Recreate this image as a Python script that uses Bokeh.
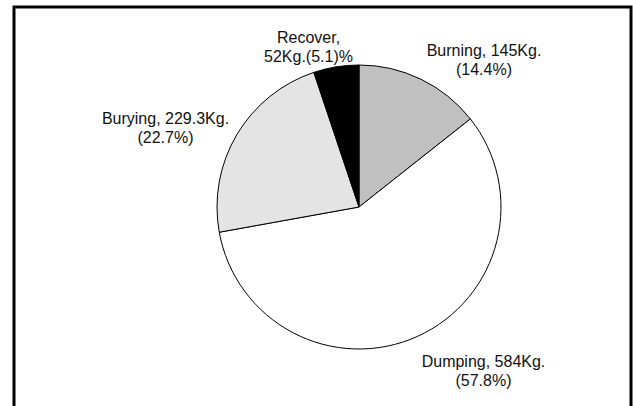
import numpy as np
from bokeh.plotting import figure
from bokeh.models import Range1d, ColumnDataSource
from bokeh.core.properties import value
from bokeh.embed import file_html
from bokeh.resources import INLINE

# Waste disposal breakdown (kg per category)
categories = ["Burning", "Dumping", "Burying", "Recover"]
weights_kg = [145, 584, 229.3, 52]
percents = [14.4, 57.8, 22.7, 5.1]
slice_colors = ["#c0c0c0", "#ffffff", "#e4e4e4", "#000000"]
# Recover's label breaks after the name instead of after the weight
break_after_name = [False, False, False, True]

W, H = 633, 406

# pie geometry in screen pixels (y measured from the top)
cx, cy_px, radius = 358.5, 206.5, 142.0
# label anchors: centre x and first-line baseline (screen pixels)
label_x = [483.5, 483.0, 165.0, 308.0]
label_base_px = [49.5, 360.5, 117.5, 36.5]
line_gap = 19.0

total = float(np.sum(weights_kg))
frac = np.array(weights_kg) / total
cum_after = np.cumsum(frac)
cum_before = cum_after - frac
start = np.pi / 2 - 2 * np.pi * cum_before
end = np.pi / 2 - 2 * np.pi * cum_after

pie_src = ColumnDataSource(dict(
    cat=categories, start=start, end=end, color=slice_colors,
))

line1, line2 = [], []
for cat, w, pct, brk in zip(categories, weights_kg, percents, break_after_name):
    if brk:
        line1.append(f"{cat},")
        line2.append(f"{w:g}Kg.({pct})%")
    else:
        line1.append(f"{cat}, {w:g}Kg.")
        line2.append(f"({pct}%)")

label_src = ColumnDataSource(dict(
    x=label_x,
    y1=[H - b for b in label_base_px],
    y2=[H - b - line_gap for b in label_base_px],
    t1=line1,
    t2=line2,
))

p = figure(
    width=W, height=H,
    x_range=Range1d(0, W), y_range=Range1d(0, H),
    toolbar_location=None, output_backend="svg",
    x_axis_location=None, y_axis_location=None,
    min_border=0, outline_line_color=None,
    background_fill_color="white", border_fill_color="white",
)
p.xgrid.visible = False
p.ygrid.visible = False

# outer frame (open at the bottom)
p.line([13.5, 13.5, 630.5, 630.5], [-20, H - 6.5, H - 6.5, -20],
       line_color="black", line_width=3, line_join="miter")

p.wedge(x=cx, y=H - cy_px, radius=radius,
        start_angle="start", end_angle="end", direction="clock",
        fill_color="color", line_color="black", line_width=1,
        source=pie_src)

for ycol, tcol in (("y1", "t1"), ("y2", "t2")):
    p.text(x="x", y=ycol, text=tcol, source=label_src,
           text_font=value("Liberation Sans"), text_font_size="16px",
           text_color="#111111", text_align="center",
           text_baseline="alphabetic")

open("out.html", "w").write(file_html(p, INLINE))
